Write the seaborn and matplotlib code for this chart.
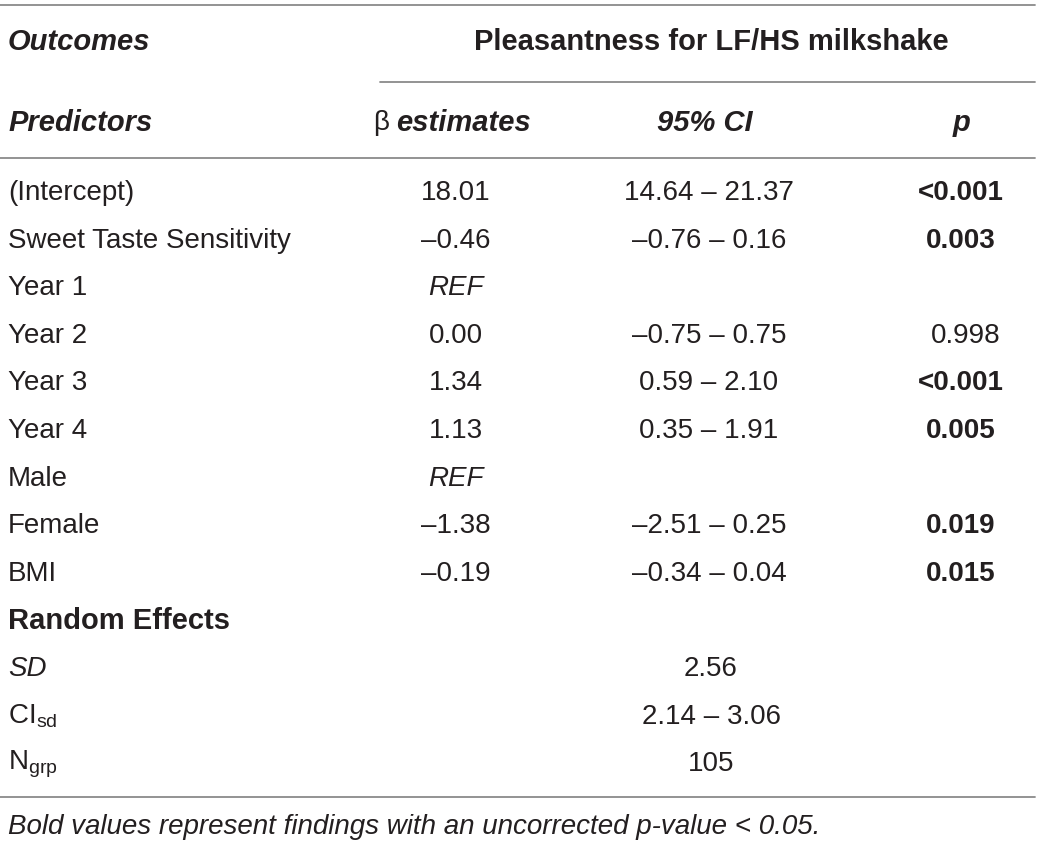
import matplotlib
matplotlib.use("Agg")
import matplotlib.pyplot as plt
import seaborn as sns
import pandas as pd
import numpy as np

sns.set_theme(style="white")
plt.rcParams['font.family'] = ['Liberation Sans', 'DejaVu Sans']
plt.rcParams['mathtext.fontset'] = 'custom'
plt.rcParams['mathtext.rm'] = 'Liberation Sans'
plt.rcParams['mathtext.it'] = 'Liberation Sans:italic'

# table content
predictors = ["(Intercept)", "Sweet Taste Sensitivity", "Year 1", "Year 2", "Year 3",
              "Year 4", "Male", "Female", "BMI"]
estimates = ["18.01", "\u20130.46", "REF", "0.00", "1.34", "1.13", "REF", "\u20131.38", "\u20130.19"]
ci_values = ["14.64 \u2013 21.37", "\u20130.76 \u2013 0.16", "", "\u20130.75 \u2013 0.75",
             "0.59 \u2013 2.10", "0.35 \u2013 1.91", "", "\u20132.51 \u2013 0.25", "\u20130.34 \u2013 0.04"]
p_values = ["<0.001", "0.003", "", "0.998", "<0.001", "0.005", "", "0.019", "0.015"]
p_bold = [True, True, False, False, True, True, False, True, True]
random_labels = ["SD", "CI$_{\\mathrm{sd}}$", "N$_{\\mathrm{grp}}$"]
random_values = ["2.56", "2.14 \u2013 3.06", "105"]
footnote = "Bold values represent findings with an uncorrected p-value < 0.05."

txt = "#231f20"
rule = "#8a8a8a"
fs = 20     # regular text
fsb = 21    # bold headers

fig = plt.figure(figsize=(10.4, 8.46), dpi=100)
ax = fig.add_axes([0, 0, 1, 1])

# horizontal rules
rules = pd.DataFrame({"x": [0, 1035, 380, 1035, 0, 1035, 0, 1035],
                      "y": [5, 5, 82, 82, 158, 158, 797, 797],
                      "g": [0, 0, 1, 1, 2, 2, 3, 3]})
sns.lineplot(data=rules, x="x", y="y", units="g", estimator=None, color=rule,
             linewidth=1.3, ax=ax, legend=False)
ax.set_xlim(0, 1040)
ax.set_ylim(846, 0)
ax.axis("off")

x_lab, x_est, x_ci, x_p = 8, 456, 709, 961
row0, step = 193, 47.6

# header
ax.text(x_lab, 42, "Outcomes", fontsize=fsb, fontweight="bold", style="italic", color=txt, va="center")
ax.text(711, 42, "Pleasantness for LF/HS milkshake", fontsize=fsb, fontweight="bold", color=txt,
        va="center", ha="center")
ax.text(x_lab, 123, "Predictors", fontsize=fsb, fontweight="bold", style="italic", color=txt, va="center")
ax.text(389, 123, "\u03b2", fontsize=fs, color=txt, va="center", ha="right")
ax.text(396, 123, "estimates", fontsize=fsb, fontweight="bold", style="italic", color=txt, va="center", ha="left")
ax.text(705, 123, "95% CI", fontsize=fsb, fontweight="bold", style="italic", color=txt, va="center", ha="center")
ax.text(962, 123, "p", fontsize=fsb, fontweight="bold", style="italic", color=txt, va="center", ha="center")

for i, name in enumerate(predictors):
    y = row0 + step * i
    ax.text(x_lab, y, name, fontsize=fs, color=txt, va="center")
    est = estimates[i]
    ax.text(x_est, y, est, fontsize=fs, color=txt, va="center", ha="center",
            style="italic" if est == "REF" else "normal")
    ax.text(x_ci, y, ci_values[i], fontsize=fs, color=txt, va="center", ha="center")
    ax.text(x_p if p_bold[i] else x_p + 5, y, p_values[i], fontsize=fs, color=txt, va="center",
            ha="center", fontweight="bold" if p_bold[i] else "normal")

y = row0 + step * len(predictors)
ax.text(x_lab, y, "Random Effects", fontsize=fsb, fontweight="bold", color=txt, va="center")
for j, (lab, val) in enumerate(zip(random_labels, random_values)):
    y = row0 + step * (len(predictors) + 1 + j)
    ax.text(x_lab, y, lab, fontsize=fs, color=txt, va="center",
            style="italic" if j == 0 else "normal")
    ax.text(711, y, val, fontsize=fs, color=txt, va="center", ha="center")

ax.text(x_lab, 827, footnote, fontsize=fs, style="italic", color=txt, va="center")

fig.savefig("out.png", dpi=100, facecolor="white")
